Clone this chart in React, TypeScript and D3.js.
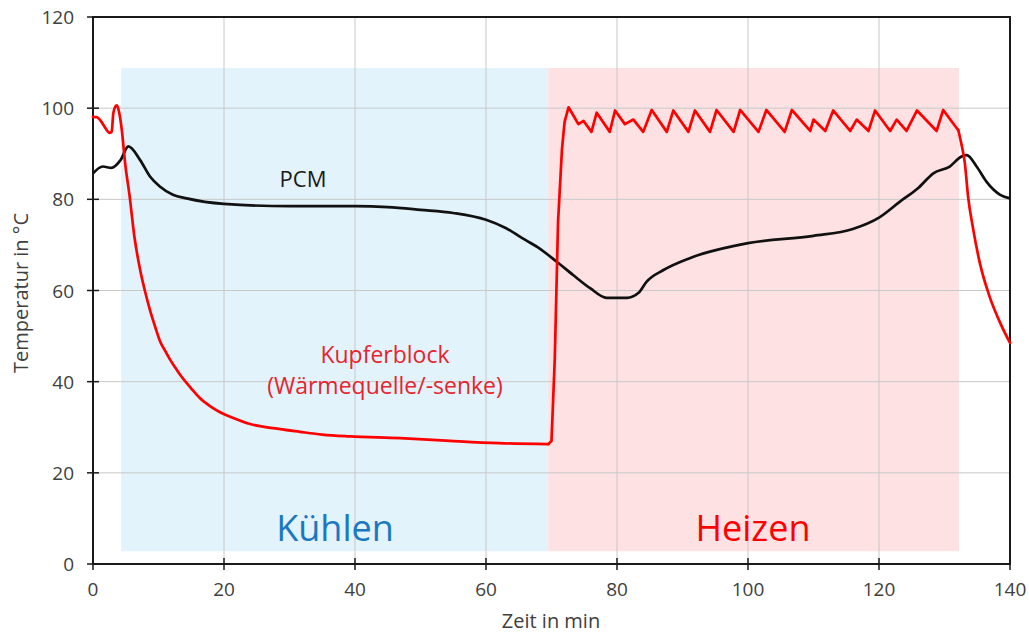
import React from "react";
import * as d3 from "d3";

const xTicks = [0, 20, 40, 60, 80, 100, 120, 140];
const yTicks = [0, 20, 40, 60, 80, 100, 120];

const coolRange = [4.3, 69.5];
const heatRange = [69.5, 132.2];
const bandTop = 108.8;
const bandBottom = 2.8;

const kupferT = [0, 0.6, 1.1, 1.6, 2.1, 2.5, 2.85, 3.1, 3.4, 3.65, 4.0, 4.4, 4.9, 5.6, 6.3, 7.2, 8.0, 8.7, 9.5, 10.2, 11.0, 11.7, 12.5, 13.3, 15.0, 16.3, 17.8, 19.4, 21.5, 24, 27.5, 31.6, 35, 39.2, 46.9, 54.5, 62, 69.5, 70.0, 70.5, 71.0, 71.6, 72.0, 72.6, 73.3, 74.1, 74.9, 76.1, 76.9, 78.9, 79.7, 81.2, 82.5, 84.0, 85.3, 87.6, 88.6, 90.9, 91.9, 94.2, 95.2, 97.8, 98.8, 101.6, 102.8, 105.6, 106.7, 109.5, 110.0, 111.8, 113.0, 115.6, 116.6, 118.4, 119.4, 121.7, 122.7, 124.2, 125.8, 128.8, 129.8, 131.5, 132.1, 132.6, 133.1, 133.6, 134.4, 135.4, 136.9, 138.5, 140];
const kupferV = [98.1, 98.0, 97.4, 96.3, 95.2, 94.6, 94.8, 98.9, 100.3, 100.6, 99, 95.2, 88, 80.6, 72, 64.5, 59.5, 55.7, 52, 49, 46.8, 45, 43.2, 41.5, 38.5, 36.4, 34.7, 33.3, 32, 30.7, 29.8, 29, 28.4, 28, 27.6, 27, 26.5, 26.3, 27, 45, 75, 91, 97, 100.2, 98.5, 96.5, 97.2, 94.8, 99, 94.8, 99.5, 96.5, 97.5, 94.8, 99.6, 94.8, 99.5, 94.8, 99.5, 94.8, 99.6, 94.8, 99.6, 94.8, 99.6, 94.8, 99.6, 95, 97.5, 95, 99.5, 95, 97.5, 95, 99.5, 95, 97.5, 95, 99.5, 95, 99.6, 96.3, 95.2, 92, 88, 80.6, 73.3, 66, 58.6, 52.9, 48.5];

const pcmT = [0, 1.5, 2.8, 4.2, 5.4, 7.2, 8.7, 10.2, 12.2, 14.3, 20, 30, 40, 45, 50, 55, 60, 63, 66, 68.2, 70.8, 73.3, 75.9, 78.4, 81.5, 83.3, 84.5, 87.1, 91.1, 100, 110, 116, 120, 123.2, 126, 128.3, 130.8, 132.6, 133.4, 134.9, 136.4, 138.5, 140];
const pcmV = [85.7, 87.2, 86.9, 88.6, 91.6, 88.6, 85, 82.8, 81, 80.2, 79, 78.5, 78.5, 78.3, 77.7, 77, 75.5, 73.7, 71.1, 69.2, 66.3, 63.4, 60.5, 58.4, 58.4, 59.5, 61.9, 64.5, 67.1, 70.4, 72, 73.5, 76, 79.5, 82.5, 85.7, 87.2, 89.4, 89.7, 87.2, 83.9, 81, 80.2];

const W = 1029;
const H = 634;
const L = 93, R = 1010, T = 17, B = 564;
const FONT = "'Open Sans', 'Noto Sans', sans-serif";

export default function App() {
  const x = d3.scaleLinear().domain([0, 140]).range([L, R]);
  const y = d3.scaleLinear().domain([0, 120]).range([B, T]);
  const smooth = d3
    .line<[number, number]>()
    .x((d) => x(d[0]))
    .y((d) => y(d[1]))
    .curve(d3.curveMonotoneX);
  const straight = d3
    .line<[number, number]>()
    .x((d) => x(d[0]))
    .y((d) => y(d[1]))
    .curve(d3.curveLinear);
  const kupfer: [number, number][] = kupferT.map((t, i) => [t, kupferV[i]]);
  const pcm: [number, number][] = pcmT.map((t, i) => [t, pcmV[i]]);
  const kCool = kupfer.filter((d) => d[0] <= 69.5);
  const kHeat = kupfer.filter((d) => d[0] >= 69.5 && d[0] <= 132.1);
  const kEnd = kupfer.filter((d) => d[0] >= 132.1);

  return (
    <svg width={W} height={H} style={{ position: "absolute", left: 0, top: 0, background: "#fff" }}>
      <rect x={x(coolRange[0])} y={y(bandTop)} width={x(coolRange[1]) - x(coolRange[0])} height={y(bandBottom) - y(bandTop)} fill="#e2f3fb" />
      <rect x={x(heatRange[0])} y={y(bandTop)} width={x(heatRange[1]) - x(heatRange[0])} height={y(bandBottom) - y(bandTop)} fill="#fde1e3" />
      {xTicks.map((t) => (
        <line key={"gx" + t} x1={x(t)} x2={x(t)} y1={T} y2={B} stroke="#c8c8c8" strokeWidth={1} />
      ))}
      {yTicks.map((t) => (
        <line key={"gy" + t} x1={L} x2={R} y1={y(t)} y2={y(t)} stroke="#c8c8c8" strokeWidth={1} />
      ))}
      <rect x={L} y={T} width={R - L} height={B - T} fill="none" stroke="#1a1a1a" strokeWidth={2} />
      {xTicks.map((t) => (
        <g key={"xt" + t}>
          <line x1={x(t)} x2={x(t)} y1={B - 6} y2={B + 6} stroke="#1a1a1a" strokeWidth={1.5} />
          <text x={x(t)} y={596} textAnchor="middle" fontFamily={FONT} fontSize={19} fill="#404040">{t}</text>
        </g>
      ))}
      {yTicks.map((t) => (
        <g key={"yt" + t}>
          <line x1={L - 6} x2={L + 6} y1={y(t)} y2={y(t)} stroke="#1a1a1a" strokeWidth={1.5} />
          <text x={74} y={y(t) + 7} textAnchor="end" fontFamily={FONT} fontSize={19} fill="#404040">{t}</text>
        </g>
      ))}
      <text x={551} y={628} textAnchor="middle" fontFamily={FONT} fontSize={20} fill="#404040">Zeit in min</text>
      <text transform={`translate(28,293) rotate(-90)`} textAnchor="middle" fontFamily={FONT} fontSize={20} fill="#404040">Temperatur in °C</text>
      <path d={smooth(pcm) || ""} fill="none" stroke="#111" strokeWidth={2.7} strokeLinejoin="round" />
      <g fill="none" stroke="#ff0000" strokeWidth={2.7} strokeLinejoin="round" strokeLinecap="round">
        <path d={smooth(kCool) || ""} />
        <path d={straight(kHeat) || ""} />
        <path d={smooth(kEnd) || ""} />
      </g>
      <text x={303} y={187} textAnchor="middle" fontFamily={FONT} fontSize={22} fill="#1a1a1a">PCM</text>
      <text x={385} y={363} textAnchor="middle" fontFamily={FONT} fontSize={23} fill="#e8232d">Kupferblock</text>
      <text x={385} y={394} textAnchor="middle" fontFamily={FONT} fontSize={23} fill="#e8232d">(Wärmequelle/-senke)</text>
      <text x={335} y={541} textAnchor="middle" fontFamily={FONT} fontSize={36} fontWeight={500} fill="#1a78c2">Kühlen</text>
      <text x={753} y={541} textAnchor="middle" fontFamily={FONT} fontSize={36} fontWeight={500} fill="#ff0000">Heizen</text>
    </svg>
  );
}
